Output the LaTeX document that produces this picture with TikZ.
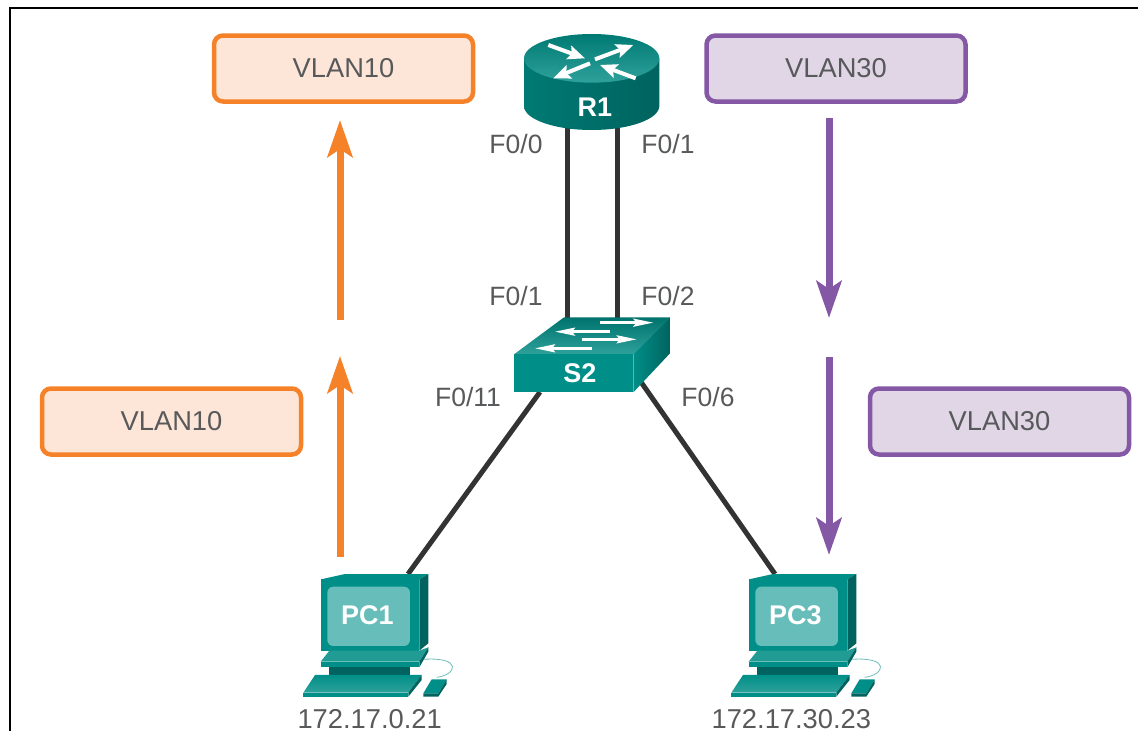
\documentclass[tikz,border=0pt]{standalone}
\usepackage{fontspec}
\setmainfont{Liberation Sans}
\usetikzlibrary{arrows.meta,positioning}
\definecolor{vlanorange}{HTML}{F58128}
\definecolor{vlanorangefill}{HTML}{FDE6D7}
\definecolor{vlanpurple}{HTML}{8558A6}
\definecolor{vlanpurplefill}{HTML}{E0D6E6}
\definecolor{labelgray}{HTML}{58595B}
\definecolor{wirecolor}{HTML}{333333}
\definecolor{tealmain}{HTML}{008F88}
\definecolor{tealdark}{HTML}{00635F}
\definecolor{teallight}{HTML}{2FA19B}
\definecolor{tealscreen}{HTML}{66BDB9}

\begin{document}
\begin{tikzpicture}[x=1pt,y=-1pt,
                    vlan/.style={rectangle,rounded corners=9,line width=4.5,minimum width=259,minimum height=66,text=labelgray,font=\fontsize{27.3}{30}\selectfont},
                    vlan10/.style={vlan,draw=vlanorange,fill=vlanorangefill},
                    vlan30/.style={vlan,draw=vlanpurple,fill=vlanpurplefill},
                    port/.style={text=labelgray,font=\fontsize{26.5}{30}\selectfont},
                    address/.style={text=labelgray,inner sep=0,font=\fontsize{27.3}{30}\selectfont},
                    devname/.style={text=white,font=\bfseries\fontsize{27}{30}\selectfont},
                    device/.style={rectangle,inner sep=0,outer sep=0},
                    wire/.style={draw=wirecolor,line width=5},
                    flow10/.style={draw=vlanorange,line width=7,-{Stealth[length=37,width=25,inset=8]}},
                    flow30/.style={draw=vlanpurple,line width=7,-{Stealth[length=37,width=25,inset=8]}},
                    routerglyph/.style={draw=white,line width=4,-{Stealth[length=17,width=14,inset=3]}},
                    switchglyph/.style={draw=white,line width=2.6,-{Stealth[length=20,width=8,inset=3]}}
                ]
    \useasboundingbox (0,0) rectangle (1138,731);
    \draw[black,line width=2] (10,731) -- (10,8) -- (1138,8);

    % device outlines, used for the wires
    \node[device,minimum width=136,minimum height=94] (R1) at (592,81) {};
    \node[device,minimum width=156,minimum height=74] (S2) at (592,355) {};
    \node[device,minimum width=107,minimum height=20] (PC1) at (375,584) {};
    \node[device,minimum width=107,minimum height=20] (PC3) at (803,584) {};

    \draw[wire] ([xshift=-25]R1.south) -- ([xshift=-25]S2.north);
    \draw[wire] ([xshift=25]R1.south) -- ([xshift=25]S2.north);
    \draw[wire] ([xshift=-52]S2.south) -- ([xshift=33]PC1.north);
    \draw[wire] ([xshift=49,yshift=10]S2.south) -- ([xshift=-28]PC3.north);

    % router
    \begin{scope}[shift={(490,20)},x=0.3333pt,y=-0.3333pt]
        \shade[left color=tealmain!85!black,middle color=teallight!85!white,right color=tealdark]
            (102,115) -- (102,258) arc[start angle=180,end angle=0,x radius=203,y radius=72] -- (508,115) -- cycle;
        \shade[top color=tealmain!85!black,bottom color=teallight]
            (305,115) ellipse[x radius=203,y radius=73];
        \draw[routerglyph] (175,75) -- (285,115);
        \draw[routerglyph] (315,118) -- (430,75);
        \draw[routerglyph] (300,130) -- (190,175);
        \draw[routerglyph] (437,175) -- (330,135);
        \node[devname] (R1name) at (315,262) {R1};
    \end{scope}

    % switch
    \begin{scope}[shift={(490,300)},x=0.3333pt,y=-0.3333pt]
        \shade[top color=tealmain!80!black,bottom color=teallight] (72,163) -- (222,52) -- (540,52) -- (430,163) -- cycle;
        \fill[tealmain] (72,163) rectangle (430,277);
        \shade[left color=tealmain,right color=tealdark] (430,163) -- (540,52) -- (540,160) -- (430,277) -- cycle;
        \draw[switchglyph] (330,68) -- (490,68);
        \draw[switchglyph] (360,95) -- (195,95);
        \draw[switchglyph] (275,118) -- (440,118);
        \draw[switchglyph] (305,145) -- (135,145);
        \node[devname] (S2name) at (270,220) {S2};
    \end{scope}

    % both hosts
    \foreach \pc/\dx/\ip/\ipx in {PC1/290/172.17.0.21/239,PC3/718/172.17.30.23/220}
        {
        \begin{scope}[shift={(\dx,560)},x=0.3333pt,y=-0.3333pt]
            \draw[teallight!70!white,line width=0.8] (400,298) .. controls (520,290) and (500,345) .. (440,352);
            \fill[tealmain] (93,58) -- (165,42) -- (415,42) -- (388,58) -- cycle;
            \fill[tealdark] (388,58) -- (415,42) -- (415,250) -- (388,272) -- cycle;
            \fill[tealmain] (93,58) rectangle (388,272);
            \fill[tealscreen,rounded corners=6] (112,80) rectangle (360,258);
            \node[devname] (\pc name) at (232,165) {\pc};
            % stand
            \fill[tealdark] (118,322) rectangle (360,345);
            \fill[teallight!70!tealmain] (118,272) -- (388,272) -- (415,262) -- (388,305) -- (92,305) -- cycle;
            \fill[tealmain] (92,305) rectangle (388,322);
            \fill[tealdark] (388,305) -- (415,262) -- (415,275) -- (388,322) -- cycle;
            % keyboard
            \shade[top color=tealmain,bottom color=teallight] (75,345) -- (395,345) -- (355,398) -- (40,398) -- cycle;
            \fill[tealmain] (40,398) rectangle (355,410);
            \fill[tealdark] (355,398) -- (395,345) -- (395,360) -- (355,410) -- cycle;
            % mouse
            \fill[tealmain] (425,358) -- (470,358) -- (445,400) -- (400,400) -- cycle;
            \fill[tealdark] (400,400) -- (445,400) -- (470,358) -- (470,372) -- (445,410) -- (400,410) -- cycle;
            \node[address] (\pc addr) at (\ipx,477) {\ip};
        \end{scope}
        }

    % vlan tags
    \node[vlan10] (tagTL) at (343.5,68.5) {VLAN10};
    \node[vlan10] (tagBL) at (171.5,421.5) {VLAN10};
    \node[vlan30] (tagTR) at (836,68.5) {VLAN30};
    \node[vlan30] (tagBR) at (999.5,421.5) {VLAN30};

    % traffic arrows
    \coordinate (up1) at (340,557);
    \coordinate (up2) at (340,356);
    \coordinate (up3) at (340,320);
    \coordinate (up4) at (340,120);
    \coordinate (down1) at (829,118);
    \coordinate (down2) at (829,318);
    \coordinate (down3) at (829,357);
    \coordinate (down4) at (829,555);
    \draw[flow10] (up1) -- (up2);
    \draw[flow10] (up3) -- (up4);
    \draw[flow30] (down1) -- (down2);
    \draw[flow30] (down3) -- (down4);

    % port names
    \node[port] (r1f0) at (516,144) {F0/0};
    \node[port] (r1f1) at (668,144) {F0/1};
    \node[port] (s2f1) at (516,296) {F0/1};
    \node[port] (s2f2) at (668,296) {F0/2};
    \node[port] (s2f11) at (468,397) {F0/11};
    \node[port] (s2f6) at (708,397) {F0/6};
\end{tikzpicture}
\end{document}
